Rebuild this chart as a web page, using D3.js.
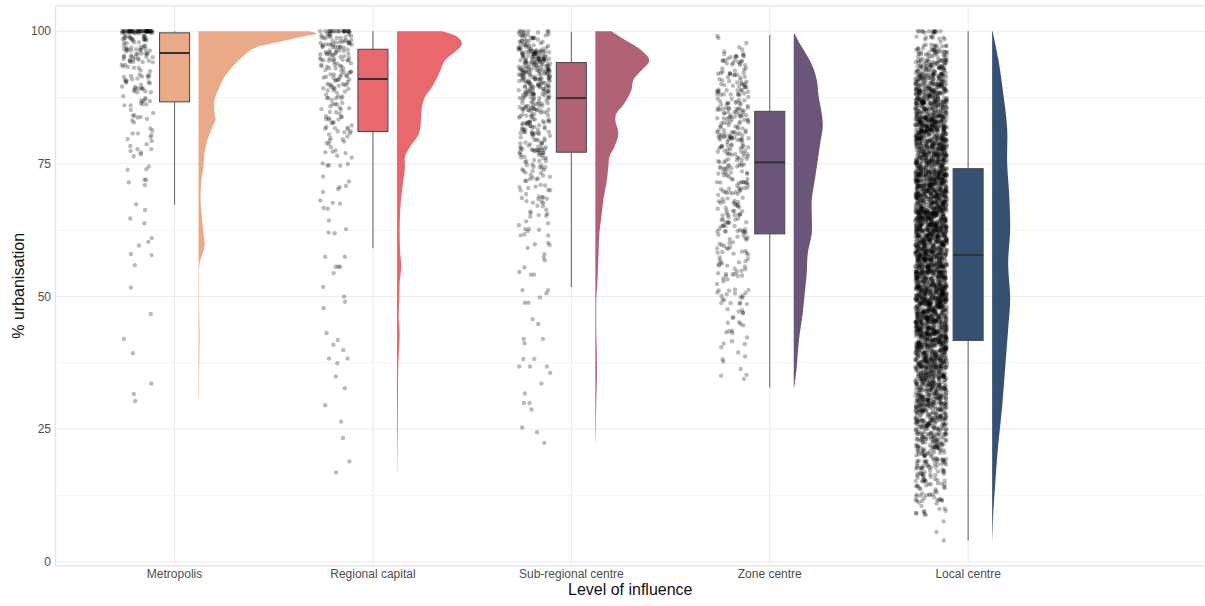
<!DOCTYPE html>
<html>
<head>
<meta charset="utf-8">
<script src="https://cdn.jsdelivr.net/npm/d3@7"></script>
<style>
  html, body { margin: 0; padding: 0; background: #fff; }
  svg { display: block; font-family: "Liberation Sans", Arial, Helvetica, sans-serif; }
</style>
</head>
<body>
<svg id="chart" width="1205" height="606"></svg>
<script>
// ---------------- DATA ----------------
const categories = ["Metropolis", "Regional capital", "Sub-regional centre", "Zone centre", "Local centre"];
const fillColors = ["#EBAA87", "#E8686E", "#B26275", "#6B5579", "#345072"];
const yTicks = [0, 25, 50, 75, 100];
const yMinorTicks = [12.5, 37.5, 62.5, 87.5];

// Boxplot statistics (% urbanisation)
const whiskerLow  = [67.3, 59.1, 51.8, 32.8, 4.0];
const q1          = [86.7, 81.1, 77.2, 61.8, 41.7];
const medianVals  = [95.9, 91.0, 87.4, 75.3, 57.8];
const q3          = [99.7, 96.6, 94.1, 84.9, 74.1];
const whiskerHigh = [100, 100, 99.9, 99.3, 100];

// Half-violin density profiles: [value, relative density]
const metroDensity = [[100,110],[99.6,118],[99,104],[98.3,88],[97.5,68],[97,58],[96.2,50],[95.2,44],[93.3,34],[91.4,26],[89.5,21],[87,16],[84.5,16],[83.2,17],[82,14],[79.5,9],[77,6],[74.5,5],[72,3],[68.8,2],[65.7,3],[61.9,5],[59.4,6],[57.5,3],[56.2,1],[53,0.6],[49.3,0.5],[43,1],[36.7,0.7],[32,0.5],[30.3,0.2]];
const regionalDensity = [[100,45],[99,60],[97.7,65],[96.4,60],[94.5,48],[92,42],[89.5,35],[87.6,28],[85.7,25],[83.2,24],[80.7,22],[78.2,13],[76.3,8],[74.4,8],[71.3,6],[68.2,4],[65,3],[61.9,2.7],[58.1,3.3],[55.6,4.3],[52.5,2.7],[49.3,2.3],[46.1,1.7],[43,2.7],[39.9,2],[36.7,1.3],[30.5,1],[24.2,0.7],[16.8,0.3]];
const subRegionalDensity = [[100,16],[98.2,31],[96.4,46],[94.5,54],[92.6,46],[90.8,38],[88.9,36],[86.4,29],[84.5,21],[83.2,20],[80.7,23],[78.2,19],[76.3,14],[74.4,13],[71.3,11],[68.2,8],[65,6],[61.9,4],[58.7,3.3],[55.6,2.7],[52.5,2],[49.3,1],[43,1],[36.7,1.7],[30.5,1],[22.4,0.3]];
const zoneDensity = [[99.5,1],[97.7,6],[95.2,14],[93.3,19],[90.8,23],[87.6,25],[84.5,28],[82,29],[79.5,27],[75.7,24],[71.9,21],[68.2,18],[65.7,18],[61.9,18],[58.1,14],[54.3,13],[50.6,11],[46.8,9],[43,6],[39.3,4],[36.7,3],[32.8,0.5]];
const localDensity = [[100,0.5],[94.9,6],[89.8,10],[81.7,15],[75.2,15],[69.3,17],[62.7,18],[56.1,16],[49.6,18],[43.8,16],[36.5,13],[29.2,10],[21.9,6],[14.6,3],[8.7,1],[4,0.2]];

// Individual low-tail observations (% urbanisation)
const metroTail = [74.5,74.0,73.9,72.0,72.0,71.5,71.0,67.4,66.3,64.7,63.8,61.0,60.3,59.6,58.0,57.8,55.9,51.7,46.7,42.0,39.3,33.6,31.6,30.3];
const regionalTail = [57.5,57.5,55.6,55.6,55.6,54.4,51.8,50.0,49.0,47.8,43.1,41.8,40.9,39.9,38.3,38.3,37.4,34.9,32.7,29.5,26.4,23.3,18.9,16.8];
const subRegionalTail = [51.2,51.2,50.6,49.8,48.8,48.8,45.7,44.8,42.0,42.0,41.2,38.2,38.2,36.8,36.8,36.8,35.6,33.6,31.7,29.9,29.9,28.7,25.3,24.4,22.4];
const zoneTail = [];
const localTail = [4.0, 5.6];

// Counts of observations per 2.5-point bin: index 0 = [0,2.5), ..., index 39 = [97.5,100)
const metroBins = [0,0,0,0,0,0,0,0,0,0, 0,0,0,0,0,0,0,0,0,0, 0,0,0,0,0,0,0,0,0,0, 4,6,6,8,11,14,16,18,30,32];
const regionalBins = [0,0,0,0,0,0,0,0,0,0, 0,0,0,0,0,0,0,0,0,0, 0,0,0,0,2,2,3,3,4,5, 6,8,12,13,14,17,21,24,30,30];
const subRegionalBins = [0,0,0,0,0,0,0,0,0,0, 0,0,0,0,0,0,0,0,0,0, 0,3,3,4,5,6,9,11,14,16, 19,26,28,26,37,45,48,62,52,27];
const zoneBins = [0,0,0,0,0,0,0,0,0,0, 0,0,0,1,3,4,5,6,8,10, 11,12,13,14,17,18,18,18,20,22, 24,26,28,29,27,25,23,18,11,3];
const localBins = [0,0,0,9,16,22,31,40,48,62, 75,84,92,101,110,123,132,141,150,158, 154,145,141,145,154,158,154,150,145,136, 132,132,132,123,110,97,84,62,44,18];
// Observations at exactly 100 %
const at100 = [45, 20, 5, 0, 6];

// ---------------- LAYOUT ----------------
const W = 1205, H = 606;
const panel = { left: 55.5, right: 1212, top: 5.8, bottom: 565.9 };
const binWidth = 2.5;
const pointOffset = -0.1865, jitterHalf = 0.08, boxHalf = 0.0756, violinOffset = 0.121;

const svg = d3.select("#chart");

const x = d3.scaleLinear().domain([0.4, 6.2]).range([panel.left, panel.left + 5.8 * 198.4]);
const y = d3.scaleLinear().domain([-0.8, 104.8]).range([panel.bottom, panel.top]);
const vScale = d3.scaleLinear().domain([0, 100]).range([0, 100 / 198.4]);

const densities = [metroDensity, regionalDensity, subRegionalDensity, zoneDensity, localDensity];
const tails = [metroTail, regionalTail, subRegionalTail, zoneTail, localTail];
const bins = [metroBins, regionalBins, subRegionalBins, zoneBins, localBins];

const g = svg.append("g");

// minor gridlines
g.selectAll("line.minor").data(yMinorTicks).join("line")
  .attr("x1", panel.left).attr("x2", W)
  .attr("y1", d => y(d)).attr("y2", d => y(d))
  .attr("stroke", "#f3f3f3").attr("stroke-width", 0.8);
// major gridlines
g.selectAll("line.major").data(yTicks).join("line")
  .attr("x1", panel.left).attr("x2", W)
  .attr("y1", d => y(d)).attr("y2", d => y(d))
  .attr("stroke", "#ebebeb").attr("stroke-width", 1);
g.selectAll("line.vgrid").data(categories).join("line")
  .attr("x1", (d, i) => x(i + 1)).attr("x2", (d, i) => x(i + 1))
  .attr("y1", panel.top).attr("y2", panel.bottom)
  .attr("stroke", "#ebebeb").attr("stroke-width", 1);

// panel border
g.append("rect")
  .attr("x", panel.left).attr("y", panel.top)
  .attr("width", panel.right - panel.left).attr("height", panel.bottom - panel.top)
  .attr("fill", "none").attr("stroke", "#e3e3e3").attr("stroke-width", 1.3);

// ---------------- POINTS ----------------
// deterministic hash for jitter placement (layout only)
function hash01(n) {
  let t = (n * 0x9E3779B1 + 0x6D2B79F5) >>> 0;
  t = Math.imul(t ^ (t >>> 15), t | 1);
  t ^= t + Math.imul(t ^ (t >>> 7), t | 61);
  return ((t ^ (t >>> 14)) >>> 0) / 4294967296;
}
const pts = [];
let k = 0;
categories.forEach((c, ci) => {
  const vals = [];
  tails[ci].forEach(v => vals.push({ v, fixed: true }));
  bins[ci].forEach((n, bi) => { for (let j = 0; j < n; j++) vals.push({ lo: bi * binWidth }); });
  for (let j = 0; j < at100[ci]; j++) vals.push({ v: 100, fixed: true });
  vals.forEach(o => {
    k++;
    const u = hash01(2 * k), w = hash01(2 * k + 1);
    const val = o.fixed ? o.v : o.lo + w * binWidth;
    pts.push({ ci, val, jit: (u - 0.5) * 2 * jitterHalf });
  });
});

g.append("g").selectAll("circle").data(pts).join("circle")
  .attr("cx", d => x(d.ci + 1 + pointOffset + d.jit))
  .attr("cy", d => y(d.val))
  .attr("r", 2.2)
  .attr("fill", "#000")
  .attr("fill-opacity", 0.27);

// ---------------- BOXPLOTS ----------------
const bx = g.append("g");
categories.forEach((c, i) => {
  const cx = x(i + 1);
  bx.append("line").attr("x1", cx).attr("x2", cx)
    .attr("y1", y(whiskerHigh[i])).attr("y2", y(q3[i]))
    .attr("stroke", "#6e6e6e").attr("stroke-width", 1.1);
  bx.append("line").attr("x1", cx).attr("x2", cx)
    .attr("y1", y(q1[i])).attr("y2", y(whiskerLow[i]))
    .attr("stroke", "#6e6e6e").attr("stroke-width", 1.1);
  bx.append("rect")
    .attr("x", x(i + 1 - boxHalf)).attr("width", x(i + 1 + boxHalf) - x(i + 1 - boxHalf))
    .attr("y", y(q3[i])).attr("height", y(q1[i]) - y(q3[i]))
    .attr("fill", fillColors[i]).attr("stroke", "#4f4f4f").attr("stroke-width", 1.1);
  bx.append("line")
    .attr("x1", x(i + 1 - boxHalf)).attr("x2", x(i + 1 + boxHalf))
    .attr("y1", y(medianVals[i])).attr("y2", y(medianVals[i]))
    .attr("stroke", "#333").attr("stroke-width", 2);
});

// ---------------- HALF VIOLINS ----------------
const vg = g.append("g");
densities.forEach((prof, i) => {
  const base = i + 1 + violinOffset;
  const area = d3.area()
    .y(d => y(d[0]))
    .x0(() => x(base))
    .x1(d => x(base + vScale(d[1])))
    .curve(d3.curveCatmullRom.alpha(0.5));
  vg.append("path").datum(prof)
    .attr("d", area)
    .attr("fill", fillColors[i]);
});

// ---------------- AXES ----------------
g.selectAll("text.ytick").data(yTicks).join("text")
  .attr("x", 51).attr("y", d => y(d)).attr("dy", "0.35em")
  .attr("text-anchor", "end").attr("font-size", 12).attr("fill", "#4d4d4d")
  .text(d => d);

g.selectAll("text.xtick").data(categories).join("text")
  .attr("x", (d, i) => x(i + 1)).attr("y", 578)
  .attr("text-anchor", "middle").attr("font-size", 12).attr("fill", "#4d4d4d")
  .text(d => d);

svg.append("text")
  .attr("x", (panel.left + W) / 2).attr("y", 595)
  .attr("text-anchor", "middle").attr("font-size", 16).attr("fill", "#111")
  .text("Level of influence");

svg.append("text")
  .attr("transform", `translate(24, ${(panel.top + panel.bottom) / 2}) rotate(-90)`)
  .attr("text-anchor", "middle").attr("font-size", 16).attr("fill", "#111")
  .text("% urbanisation");
</script>
</body>
</html>
